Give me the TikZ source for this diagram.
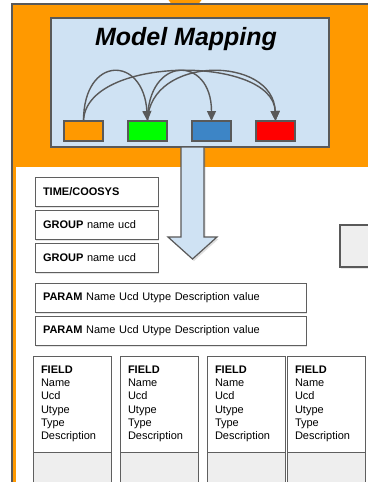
\documentclass[tikz,border=0pt]{standalone}
\usepackage{fontspec}
\setmainfont{Liberation Sans}
\usetikzlibrary{arrows.meta,positioning,shadows}

\definecolor{mporange}{HTML}{FF9900}
\definecolor{mpblue}{HTML}{CFE2F3}
\definecolor{boxgray}{HTML}{5F5F5F}
\definecolor{linegray}{HTML}{595959}
\definecolor{fillgray}{HTML}{EEEEEE}
\definecolor{cgreen}{HTML}{00FF00}
\definecolor{cblue}{HTML}{3D85C6}
\definecolor{cred}{HTML}{FF0000}

\begin{document}
\begin{tikzpicture}[x=1pt,y=-1pt,
  block/.style={draw=boxgray,fill=white,rectangle,outer sep=0pt,inner xsep=8pt,inner ysep=0pt,
    font=\fontsize{11}{13.3}\selectfont,
    drop shadow={opacity=0.2,shadow xshift=1pt,shadow yshift=-1.5pt}},
  rowbox/.style={block,minimum height=29,align=left},
  fieldbox/.style={block,text width=62,minimum height=96,align=left},
  footbox/.style={draw=boxgray,fill=fillgray,outer sep=0pt,minimum width=78,minimum height=40},
  cbox/.style={draw=linegray,line width=1.2pt,minimum width=39,minimum height=20,outer sep=0pt,inner sep=0pt},
  link/.style={draw=linegray,line width=1.4pt,-{Triangle[length=10pt,width=9pt]}}]

  \useasboundingbox (0,0) rectangle (367,482);

  \fill[mporange] (167,-2) -- (203,-2) -- (197,6) -- (173,6) -- cycle;
  \draw[linegray,line width=1.5pt,fill=mporange] (12,4) rectangle (400,520);
  \fill[white] (16,167) rectangle (400,520);

  \node[draw=linegray,line width=1.5pt,fill=mpblue,minimum width=278,minimum height=129,
    anchor=north west,outer sep=0pt] (map) at (51,18) {};
  \node[font=\fontsize{25}{30}\selectfont\bfseries\itshape,anchor=base] (title) at (186,45) {Model Mapping};

  \node[cbox,fill=mporange] (o) at (83.5,131) {};
  \node[cbox,fill=cgreen] (g) [right=25pt of o] {};
  \node[cbox,fill=cblue] (b) [right=25pt of g] {};
  \node[cbox,fill=cred] (r) [right=25pt of b] {};

  \draw[link] (o.north) .. controls +(0,-66) and +(-4,-66) .. (g.north);
  \draw[link] (o.north) .. controls +(2,-66) and +(-2,-66) .. (r.north);
  \draw[link] (g.north) .. controls +(0,-66) and +(0,-66) .. (b.north);
  \draw[link] (g.north) .. controls +(2,-66) and +(-2,-66) .. (r.north);

  \draw[linegray,line width=1.2pt,fill=mpblue,
    drop shadow={opacity=0.25,shadow xshift=1.5pt,shadow yshift=-2pt}]
    (181,147) -- (204,147) -- (204,237) -- (217,237) -- (192.5,259) -- (168,237) -- (181,237) -- cycle;

  \node[rowbox,text width=107,anchor=north west] (time) at (35,177) {\textbf{TIME/COOSYS}};
  \node[rowbox,text width=107] (group1) [below=4pt of time] {\textbf{GROUP} name ucd};
  \node[rowbox,text width=107] (group2) [below=4pt of group1] {\textbf{GROUP} name ucd};
  \node[rowbox,text width=255] (param1) [below=11pt of group2.south west,anchor=north west] {\textbf{PARAM} Name Ucd Utype Description value};
  \node[rowbox,text width=255] (param2) [below=4pt of param1] {\textbf{PARAM} Name Ucd Utype Description value};

  \node[block,fill=fillgray,line width=1.5pt,draw=linegray,minimum width=60,minimum height=42,anchor=north west] (side) at (340,225) {};

  \node[fieldbox,anchor=north west] (field1) at (33,356) {\textbf{FIELD}\\Name\\Ucd\\Utype\\Type\\Description};
  \node[fieldbox] (field2) [right=9pt of field1] {\textbf{FIELD}\\Name\\Ucd\\Utype\\Type\\Description};
  \node[fieldbox] (field3) [right=9pt of field2] {\textbf{FIELD}\\Name\\Ucd\\Utype\\Type\\Description};
  \node[fieldbox] (field4) [right=2pt of field3] {\textbf{FIELD}\\Name\\Ucd\\Utype\\Type\\Description};

  \node[footbox] (foot1) [below=0pt of field1] {};
  \node[footbox] (foot2) [below=0pt of field2] {};
  \node[footbox] (foot3) [below=0pt of field3] {};
  \node[footbox] (foot4) [below=0pt of field4] {};
\end{tikzpicture}
\end{document}
